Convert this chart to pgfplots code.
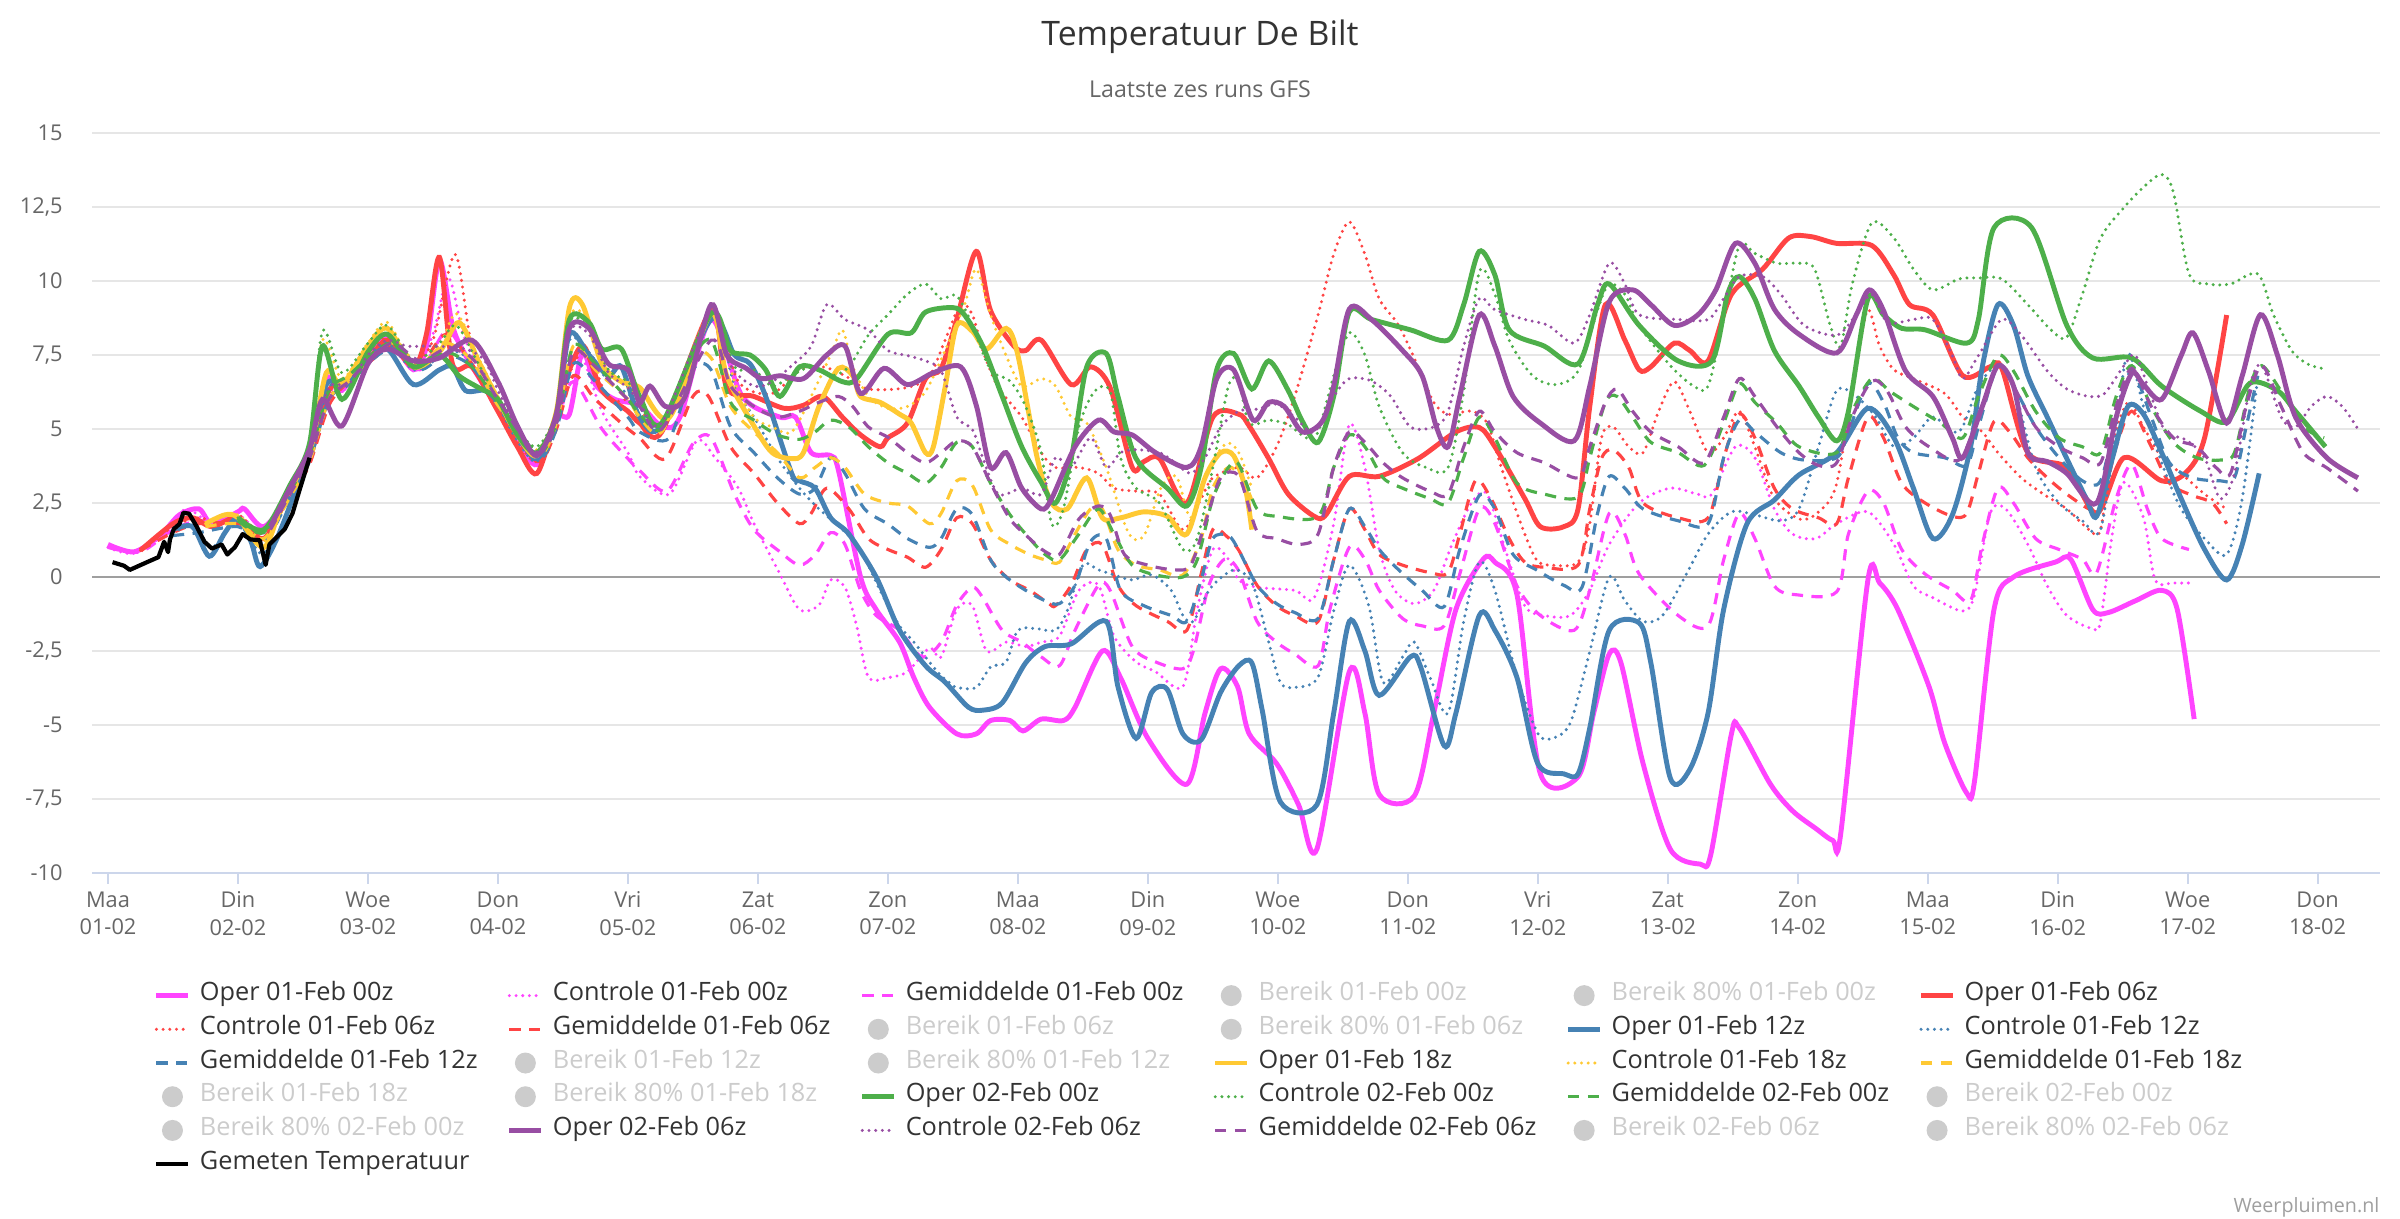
\documentclass[border=0pt]{standalone}
\usepackage{fontspec}
\setmainfont{Open Sans}
\usepackage{pgfplots}
\pgfplotsset{compat=1.18}
\definecolor{cpink}{HTML}{FF44FF}
\definecolor{cred}{HTML}{FF4444}
\definecolor{cblue}{HTML}{4682B4}
\definecolor{cyellow}{HTML}{FFC933}
\definecolor{cgreen}{HTML}{4DAF4A}
\definecolor{cpurple}{HTML}{984EA3}
\definecolor{cgrid}{HTML}{E6E6E6}
\definecolor{caxis}{HTML}{CCD6EB}
\definecolor{ctick}{HTML}{666666}
\definecolor{ctext}{HTML}{333333}
\definecolor{cbereik}{HTML}{CCCCCC}
\pgfplotsset{
  oper/.style={no markers, line width=1.4pt, smooth, tension=0.5},
  ctrl/.style={no markers, line width=0.95pt, smooth, tension=0.5, line cap=round, dash pattern=on 0pt off 1.9pt},
  gem/.style={no markers, line width=0.9pt, smooth, tension=0.5, dash pattern=on 3.2pt off 2.4pt},
  bereik/.style={legend image code/.code={\path[draw=none] (0cm,0cm) -- (0.32cm,0cm); \path[fill=cbereik, draw=none] (0.16cm,0cm) circle[radius=0.105cm];}},
}
\newcommand{\LE}[1]{\addlegendentry{\makebox[3.16cm][l]{\hspace{0.09cm}#1}}}
\newcommand{\GE}[1]{\addlegendimage{bereik}\addlegendentry{\makebox[3.16cm][l]{\hspace{0.09cm}\textcolor{cbereik}{#1}}}}
\begin{document}
\begin{tikzpicture}
\useasboundingbox (0,0) rectangle (24cm,12.19cm);
\node[font=\fontsize{9.6}{11}\selectfont, text=ctext] at (12cm,11.82cm) {Temperatuur De Bilt};
\node[font=\fontsize{6.6}{8}\selectfont, text=ctick] at (12cm,11.30cm) {Laatste zes runs GFS};
\node[anchor=base east, inner sep=0pt, font=\fontsize{5.6}{6}\selectfont, text=gray!75] at (23.80cm,0.06cm) {Weerpluimen.nl};
\begin{axis}[
  at={(0.92cm,3.46cm)}, anchor=south west,
  width=22.88cm, height=7.40cm, scale only axis,
  xmin=-0.123, xmax=17.48, ymin=-10, ymax=15,
  axis x line*=bottom, axis y line*=left,
  y axis line style={draw=none},
  x axis line style={draw=caxis, line width=0.6pt, -},
  xtick={0,1,...,17},
  xticklabels={Maa\\01-02,Din\\02-02,Woe\\03-02,Don\\04-02,Vri\\05-02,Zat\\06-02,Zon\\07-02,Maa\\08-02,Din\\09-02,Woe\\10-02,Don\\11-02,Vri\\12-02,Zat\\13-02,Zon\\14-02,Maa\\15-02,Din\\16-02,Woe\\17-02,Don\\18-02},
  xtick style={draw=caxis, line width=0.6pt},
  tick align=outside, major tick length=0.11cm,
  ytick={-10,-7.5,-5,-2.5,0,2.5,5,7.5,10,12.5,15},
  ytick style={draw=none},
  ymajorgrids, grid style={draw=cgrid, line width=0.5pt},
  extra y ticks={0}, extra y tick labels={},
  extra y tick style={grid style={draw=gray!75, line width=0.6pt}},
  yticklabel style={font=\fontsize{6.2}{7}\selectfont, text=ctick, /pgf/number format/use comma, /pgf/number format/assume math mode=true, xshift=-0.06cm},
  xticklabel style={font=\fontsize{6.2}{7.8}\selectfont, text=ctick, align=center, yshift=0.045cm},
  legend columns=6, legend cell align=left,
  legend style={at={(0.0268,-0.142)}, anchor=north west, draw=none, fill=none, font=\fontsize{7.2}{8}\selectfont, text=ctext, column sep=0pt, row sep=0pt, inner sep=0pt, nodes={inner sep=0pt, text height=0.22cm, text depth=0.117cm}},
  legend image code/.code={\draw[#1] (0cm,0cm) -- (0.32cm,0cm);},
]
% ---------- 01-Feb 00z (pink)
\addplot[oper, cpink] coordinates {(0,1.1)(0.2,0.85)(0.4,1.4)(0.55,2.1)(0.7,2.3)(0.8,1.8)(1.0,2.2)(1.05,2.3)(1.2,1.7)(1.4,2.8)(1.55,4.2)(1.68,6.7)(1.8,6.3)(2.0,7.6)(2.15,8.1)(2.35,7.0)(2.45,7.8)(2.55,10.7)(2.65,8.5)(2.75,7.5)(3.0,5.7)(3.15,4.6)(3.3,3.8)(3.45,5.4)(3.55,5.5)(3.65,7.6)(3.75,6.5)(3.9,6.0)(4.09,5.8)(4.26,5.1)(4.4,5.4)(4.64,8.7)(4.88,6.1)(5.17,5.4)(5.29,5.4)(5.41,4.2)(5.56,4.1)(5.62,3.6)(5.79,0.0)(5.91,-1.1)(6.09,-2.2)(6.2,-3.4)(6.32,-4.4)(6.53,-5.3)(6.68,-5.3)(6.79,-4.85)(6.94,-4.85)(7.04,-5.2)(7.18,-4.8)(7.35,-4.85)(7.44,-4.4)(7.65,-2.5)(7.79,-3.4)(8.0,-5.45)(8.3,-7.0)(8.44,-4.6)(8.56,-3.1)(8.69,-3.7)(8.78,-5.3)(8.99,-6.3)(9.16,-7.7)(9.3,-9.2)(9.55,-3.2)(9.67,-4.6)(9.78,-7.35)(10.05,-7.4)(10.2,-4.6)(10.37,-1.1)(10.58,0.6)(10.67,0.5)(10.84,-0.6)(11.02,-6.65)(11.31,-6.75)(11.43,-4.6)(11.55,-2.6)(11.64,-2.9)(11.81,-6.3)(12.02,-9.2)(12.25,-9.7)(12.33,-9.4)(12.49,-5.3)(12.55,-5.1)(12.79,-7.0)(12.96,-7.9)(13.14,-8.5)(13.27,-8.9)(13.33,-8.7)(13.54,-0.1)(13.63,-0.2)(13.77,-1.1)(14.01,-3.7)(14.13,-5.6)(14.3,-7.3)(14.36,-6.9)(14.51,-1.1)(14.66,0.0)(14.98,0.5)(15.1,0.6)(15.27,-1.1)(15.39,-1.2)(15.6,-0.8)(15.8,-0.45)(15.92,-1.1)(16.05,-4.8)};
\LE{Oper 01-Feb 00z}
\addplot[ctrl, cpink] coordinates {(0,1.0)(0.2,0.8)(0.45,1.5)(0.6,2.3)(0.8,1.8)(1.0,2.1)(1.2,1.5)(1.4,2.8)(1.55,4.1)(1.7,6.2)(1.85,6.5)(2.0,7.4)(2.15,8.0)(2.35,7.0)(2.5,8.2)(2.62,10.1)(2.75,8.0)(3.0,5.9)(3.15,4.8)(3.3,4.1)(3.45,5.3)(3.55,7.0)(3.65,7.4)(3.8,5.6)(4.0,4.2)(4.09,3.4)(4.32,2.8)(4.53,4.6)(4.67,4.03)(4.85,3.0)(4.97,1.8)(5.17,0.1)(5.32,-1.1)(5.47,-0.95)(5.56,-0.1)(5.67,-0.35)(5.76,-1.65)(5.85,-3.38)(6.0,-3.4)(6.15,-3.2)(6.32,-2.4)(6.41,-2.7)(6.53,-1.1)(6.65,-0.97)(6.76,-2.5)(6.91,-2.2)(7.06,-2.35)(7.18,-2.2)(7.32,-2.0)(7.47,-0.45)(7.62,-0.28)(7.74,-2.0)(7.91,-2.87)(8.06,-3.2)(8.27,-3.7)(8.38,-1.1)(8.5,0.93)(8.62,0.6)(8.7,-0.1)(8.84,-0.35)(9.13,-0.45)(9.28,-0.7)(9.43,1.8)(9.55,5.15)(9.67,3.7)(9.78,0.93)(9.9,-0.45)(10.05,-0.9)(10.2,-0.45)(10.34,1.1)(10.49,2.5)(10.61,2.8)(10.75,0.93)(10.9,-0.97)(11.05,-1.3)(11.25,-1.3)(11.4,-0.45)(11.55,1.1)(11.78,2.5)(12.02,3.0)(12.23,2.8)(12.34,2.8)(12.52,4.4)(12.67,4.03)(12.82,2.3)(12.96,1.45)(13.14,1.3)(13.3,1.8)(13.54,2.2)(13.74,1.1)(13.89,-0.3)(14.04,-0.7)(14.27,-1.15)(14.36,-0.6)(14.48,2.15)(14.6,2.3)(14.77,1.1)(14.92,-0.3)(15.07,-1.3)(15.27,-1.75)(15.33,-1.5)(15.42,1.45)(15.51,3.2)(15.66,2.0)(15.75,-0.1)(15.89,-0.2)(16.04,-0.2)};
\LE{Controle 01-Feb 00z}
\addplot[gem, cpink] coordinates {(0,1.0)(0.25,0.85)(0.5,1.6)(0.7,1.9)(1.0,1.9)(1.2,1.5)(1.4,2.8)(1.55,4.0)(1.7,6.0)(1.85,6.5)(2.05,7.5)(2.2,7.8)(2.4,7.0)(2.6,8.3)(2.75,7.5)(3.0,5.6)(3.3,4.0)(3.45,5.2)(3.58,6.6)(3.8,5.0)(4.0,4.0)(4.09,3.6)(4.3,2.9)(4.5,4.5)(4.64,4.7)(4.82,2.8)(4.97,1.6)(5.17,0.85)(5.32,0.4)(5.44,0.75)(5.56,1.5)(5.67,1.1)(5.79,-0.45)(5.91,-1.3)(6.09,-1.8)(6.26,-2.7)(6.41,-2.2)(6.53,-0.95)(6.65,-0.35)(6.73,-0.7)(6.88,-1.8)(7.03,-2.2)(7.18,-2.7)(7.32,-3.0)(7.44,-1.8)(7.62,-0.28)(7.71,-0.45)(7.88,-2.35)(8.06,-2.87)(8.27,-3.1)(8.35,-2.5)(8.47,-0.28)(8.59,0.6)(8.7,0.2)(8.84,-1.5)(8.99,-2.2)(9.13,-2.6)(9.31,-3.0)(9.4,-1.1)(9.55,1.0)(9.67,0.6)(9.78,-0.45)(9.96,-1.4)(10.11,-1.65)(10.28,-1.65)(10.4,0.1)(10.55,2.3)(10.67,1.8)(10.84,-0.3)(11.02,-1.3)(11.28,-1.8)(11.4,-0.45)(11.55,2.15)(11.67,1.45)(11.78,0.1)(12.08,-1.3)(12.31,-1.65)(12.43,0.58)(12.55,2.15)(12.67,1.3)(12.82,-0.3)(12.99,-0.6)(13.3,-0.5)(13.39,1.45)(13.54,2.9)(13.66,2.5)(13.8,0.93)(13.98,0.1)(14.19,-0.45)(14.33,-0.8)(14.42,1.1)(14.54,3.0)(14.66,2.5)(14.83,1.3)(15.01,0.93)(15.19,0.6)(15.3,0.15)(15.45,2.65)(15.57,3.8)(15.69,2.3)(15.8,1.3)(16.01,0.93)};
\LE{Gemiddelde 01-Feb 00z}
\GE{Bereik 01-Feb 00z}
\GE{Bereik 80\% 01-Feb 00z}
% ---------- 01-Feb 06z (red)
\addplot[oper, cred] coordinates {(0.25,0.9)(0.5,1.8)(0.65,2.0)(0.8,1.7)(1.0,2.0)(1.2,1.3)(1.4,2.9)(1.55,4.0)(1.7,6.3)(1.85,6.6)(2.0,7.3)(2.15,8.0)(2.35,7.1)(2.45,8.2)(2.55,10.8)(2.65,7.2)(2.8,7.1)(3.0,5.6)(3.15,4.4)(3.3,3.5)(3.45,5.5)(3.55,7.0)(3.66,7.8)(3.8,6.3)(4.0,5.6)(4.09,5.2)(4.26,4.9)(4.64,9.0)(4.76,6.4)(4.97,6.1)(5.2,5.7)(5.35,5.8)(5.5,6.1)(5.65,5.4)(5.79,4.8)(5.94,4.4)(6.0,4.7)(6.15,5.2)(6.29,6.7)(6.41,7.05)(6.53,8.7)(6.68,11.0)(6.79,9.0)(6.97,7.8)(7.06,7.65)(7.18,8.0)(7.41,6.5)(7.56,7.1)(7.71,6.4)(7.88,3.7)(7.97,3.9)(8.09,4.0)(8.3,2.5)(8.5,5.4)(8.7,5.5)(8.78,5.1)(8.93,4.0)(9.08,2.8)(9.28,2.05)(9.37,2.1)(9.55,3.4)(9.78,3.4)(10.08,4.0)(10.37,4.9)(10.55,5.05)(10.67,4.4)(10.9,2.65)(11.02,1.7)(11.2,1.7)(11.31,2.3)(11.4,5.76)(11.52,9.2)(11.67,8.0)(11.78,7.0)(11.87,7.1)(12.05,7.9)(12.17,7.65)(12.31,7.3)(12.49,9.55)(12.73,10.4)(12.93,11.45)(13.1,11.5)(13.3,11.27)(13.57,11.2)(13.74,10.2)(13.86,9.2)(14.04,8.85)(14.27,6.8)(14.48,7.1)(14.57,7.05)(14.77,4.2)(15.07,3.7)(15.3,2.15)(15.51,4.03)(15.8,3.25)(15.98,3.5)(16.13,4.7)(16.3,8.85)};
\LE{Oper 01-Feb 06z}
\addplot[ctrl, cred] coordinates {(0.25,0.9)(0.5,1.7)(0.7,2.0)(0.85,1.8)(1.0,2.1)(1.2,1.5)(1.4,2.8)(1.55,3.9)(1.7,6.0)(1.85,6.8)(2.0,7.5)(2.15,8.1)(2.35,7.3)(2.5,8.0)(2.67,10.9)(2.8,7.8)(3.0,5.8)(3.15,4.6)(3.3,3.9)(3.45,5.2)(3.58,7.2)(3.7,7.5)(3.85,6.0)(4.0,6.0)(4.09,5.76)(4.26,5.0)(4.64,9.0)(4.85,6.6)(5.11,6.2)(5.32,7.0)(5.5,7.1)(5.67,6.8)(5.85,6.35)(6.15,6.4)(6.32,6.8)(6.44,8.0)(6.56,9.2)(6.65,8.86)(6.73,7.65)(6.85,6.4)(7.03,5.4)(7.18,4.2)(7.29,3.7)(7.47,3.7)(7.62,3.5)(7.74,3.0)(7.91,2.9)(8.09,2.8)(8.27,1.6)(8.41,2.65)(8.5,3.35)(8.7,3.7)(8.84,3.35)(8.99,4.4)(9.13,6.1)(9.31,8.86)(9.43,10.9)(9.55,12.0)(9.67,10.9)(9.78,9.4)(9.93,8.5)(10.08,7.1)(10.2,5.9)(10.31,5.5)(10.49,5.6)(10.61,5.2)(10.72,3.7)(10.87,1.8)(10.99,0.58)(11.11,0.4)(11.31,0.5)(11.4,1.8)(11.49,4.7)(11.58,5.07)(11.7,4.4)(11.81,4.2)(11.93,5.6)(12.05,6.6)(12.17,5.6)(12.31,4.2)(12.43,4.7)(12.55,5.6)(12.67,4.4)(12.82,2.65)(13.02,1.95)(13.16,2.2)(13.3,3.17)(13.45,7.14)(13.54,9.03)(13.63,7.8)(13.74,7.0)(13.89,6.7)(14.13,6.2)(14.27,5.4)(14.42,4.9)(14.54,4.2)(14.72,3.35)(14.89,2.8)(15.07,2.3)(15.24,1.6)(15.33,1.6)(15.42,4.4)(15.54,5.9)(15.66,5.07)(15.8,4.03)(15.95,3.5)(16.13,2.8)(16.3,2.3)};
\LE{Controle 01-Feb 06z}
\addplot[gem, cred] coordinates {(0.25,0.9)(0.5,1.5)(0.7,1.8)(1.0,1.8)(1.2,1.5)(1.4,2.7)(1.55,3.8)(1.7,5.8)(1.85,6.6)(2.05,7.4)(2.2,7.8)(2.4,7.2)(2.6,8.2)(2.8,7.2)(3.0,5.7)(3.3,3.9)(3.45,5.0)(3.58,6.8)(3.75,6.0)(4.0,5.0)(4.09,4.7)(4.29,4.0)(4.5,6.1)(4.62,6.1)(4.79,4.4)(4.97,3.5)(5.15,2.5)(5.32,1.8)(5.41,2.15)(5.53,3.0)(5.7,2.3)(5.85,1.3)(6.0,0.93)(6.15,0.67)(6.29,0.33)(6.41,0.93)(6.53,2.0)(6.65,1.8)(6.79,0.58)(6.94,-0.1)(7.09,-0.45)(7.24,-0.9)(7.29,-0.97)(7.41,-0.28)(7.53,0.93)(7.65,1.1)(7.77,-0.28)(7.91,-0.97)(8.15,-1.5)(8.3,-1.8)(8.41,0.1)(8.5,1.6)(8.6,1.4)(8.7,0.9)(8.84,-0.28)(8.99,-0.97)(9.13,-1.3)(9.31,-1.5)(9.43,0.58)(9.55,2.3)(9.67,1.6)(9.78,0.76)(9.96,0.4)(10.17,0.15)(10.31,0.15)(10.4,1.45)(10.52,3.25)(10.64,2.65)(10.78,1.3)(10.9,0.5)(11.05,0.33)(11.31,0.4)(11.4,2.3)(11.49,4.0)(11.58,4.3)(11.7,3.7)(11.81,2.5)(12.08,2.0)(12.31,2.0)(12.43,4.0)(12.55,5.5)(12.67,4.7)(12.82,3.0)(12.96,2.3)(13.16,2.0)(13.3,1.8)(13.39,3.35)(13.54,5.4)(13.66,4.7)(13.8,3.17)(13.98,2.5)(14.19,2.05)(14.3,2.15)(14.39,3.5)(14.51,5.25)(14.63,4.9)(14.77,4.03)(14.92,3.35)(15.07,2.8)(15.24,2.3)(15.33,2.3)(15.45,4.4)(15.57,5.6)(15.72,4.4)(15.86,3.17)(16.04,2.75)(16.19,2.5)(16.3,1.8)};
\LE{Gemiddelde 01-Feb 06z}
\GE{Bereik 01-Feb 06z}
\GE{Bereik 80\% 01-Feb 06z}
% ---------- 01-Feb 12z (blue)
\addplot[oper, cblue] coordinates {(0.5,1.6)(0.65,1.7)(0.78,0.7)(0.9,1.5)(1.0,2.0)(1.1,1.2)(1.17,0.35)(1.3,1.3)(1.45,3.0)(1.55,4.2)(1.68,6.5)(1.8,6.5)(2.0,7.3)(2.15,7.7)(2.35,6.5)(2.55,7.0)(2.65,7.1)(2.75,6.3)(2.9,6.3)(3.0,5.9)(3.15,4.8)(3.3,4.0)(3.45,5.3)(3.55,8.2)(3.7,7.5)(3.85,6.8)(3.95,7.1)(4.09,5.4)(4.26,5.1)(4.64,8.7)(4.82,7.5)(4.94,7.2)(5.06,6.1)(5.26,3.5)(5.32,3.25)(5.44,3.0)(5.56,2.0)(5.7,1.45)(5.91,0.0)(6.09,-1.8)(6.29,-3.0)(6.44,-3.55)(6.62,-4.4)(6.73,-4.5)(6.88,-4.25)(7.06,-2.9)(7.21,-2.35)(7.41,-2.26)(7.68,-1.5)(7.77,-3.7)(7.91,-5.45)(8.03,-3.9)(8.15,-3.8)(8.27,-5.3)(8.41,-5.5)(8.56,-3.9)(8.7,-3.0)(8.8,-2.9)(8.88,-4.5)(9.02,-7.6)(9.3,-7.7)(9.43,-4.6)(9.55,-1.5)(9.67,-2.5)(9.78,-4.0)(10.02,-2.7)(10.1,-3.05)(10.28,-5.7)(10.37,-4.6)(10.55,-1.3)(10.67,-1.8)(10.84,-3.4)(11.0,-6.3)(11.2,-6.65)(11.31,-6.65)(11.4,-5.1)(11.55,-1.8)(11.78,-1.55)(11.87,-2.9)(12.02,-6.8)(12.17,-6.5)(12.31,-4.6)(12.43,-1.1)(12.61,1.8)(12.82,2.6)(13.01,3.45)(13.3,4.2)(13.54,5.7)(13.74,4.7)(13.89,3.0)(14.04,1.3)(14.19,2.1)(14.33,4.4)(14.42,7.1)(14.54,9.2)(14.66,8.5)(14.77,6.8)(14.92,5.4)(15.07,4.0)(15.22,2.65)(15.3,2.05)(15.42,4.0)(15.54,5.76)(15.66,5.5)(15.8,4.2)(15.95,2.65)(16.13,0.93)(16.3,-0.1)(16.42,1.1)(16.55,3.5)};
\LE{Oper 01-Feb 12z}
\addplot[ctrl, cblue] coordinates {(0.5,1.5)(0.65,1.7)(0.8,1.0)(1.0,1.9)(1.17,0.8)(1.3,1.4)(1.45,3.0)(1.55,4.1)(1.7,6.4)(1.85,6.6)(2.0,7.4)(2.15,7.9)(2.35,7.0)(2.55,7.4)(2.7,7.6)(2.85,6.9)(3.0,5.8)(3.15,4.6)(3.3,3.9)(3.45,5.3)(3.55,8.0)(3.7,7.6)(3.85,6.6)(4.0,6.2)(4.09,5.76)(4.26,5.07)(4.64,8.86)(4.82,6.45)(4.97,5.4)(5.15,4.03)(5.32,3.0)(5.47,2.3)(5.65,1.6)(5.79,0.93)(5.94,-0.45)(6.09,-1.65)(6.2,-2.2)(6.38,-3.2)(6.47,-3.56)(6.53,-3.73)(6.68,-3.73)(6.79,-3.04)(6.91,-2.87)(7.0,-1.8)(7.15,-1.75)(7.29,-1.8)(7.38,-1.14)(7.5,0.4)(7.62,0.24)(7.74,0.07)(7.88,-0.1)(8.03,0.07)(8.18,-0.45)(8.27,-1.3)(8.35,-1.5)(8.47,-0.45)(8.59,0.07)(8.69,0.24)(8.81,-0.28)(8.93,-2.2)(9.02,-3.56)(9.13,-3.73)(9.31,-3.38)(9.43,-1.14)(9.55,0.4)(9.7,-0.97)(9.81,-3.56)(9.96,-2.7)(10.05,-2.2)(10.17,-3.38)(10.31,-4.6)(10.43,-1.5)(10.55,0.5)(10.67,-0.45)(10.84,-3.38)(11.0,-5.28)(11.11,-5.45)(11.25,-4.93)(11.4,-2.52)(11.55,0)(11.67,-0.8)(11.81,-1.5)(11.96,-1.3)(12.14,0.07)(12.31,1.45)(12.49,2.2)(12.67,2.1)(12.87,1.9)(13.01,2.3)(13.16,4.4)(13.3,6.3)(13.45,6.1)(13.6,5.4)(13.74,4.4)(13.89,4.7)(14.04,5.4)(14.24,4.9)(14.39,6.45)(14.54,7.14)(14.66,6.45)(14.83,3.7)(15.01,2.5)(15.19,1.9)(15.33,1.6)(15.45,5.07)(15.54,7.57)(15.66,5.76)(15.8,3.86)(15.95,2.3)(16.13,1.3)(16.3,0.76)(16.42,2.65)(16.54,6.79)};
\LE{Controle 01-Feb 12z}
\addplot[gem, cblue] coordinates {(0.5,1.4)(0.7,1.5)(1.0,1.7)(1.2,1.2)(1.4,2.7)(1.55,3.9)(1.7,6.0)(1.85,6.5)(2.05,7.4)(2.2,7.7)(2.4,7.0)(2.6,7.5)(2.8,7.1)(3.0,5.8)(3.3,4.0)(3.45,5.0)(3.58,7.2)(3.75,6.6)(4.0,5.4)(4.09,4.9)(4.32,4.7)(4.5,7.0)(4.64,7.0)(4.79,5.07)(4.97,4.2)(5.15,3.35)(5.32,2.8)(5.44,3.0)(5.56,4.03)(5.67,3.5)(5.82,2.3)(6.0,1.79)(6.15,1.3)(6.32,1.0)(6.41,1.3)(6.53,2.3)(6.65,2.1)(6.79,0.58)(6.91,0)(7.06,-0.45)(7.21,-0.8)(7.32,-0.9)(7.44,-0.28)(7.56,1.2)(7.68,1.3)(7.79,-0.45)(7.97,-0.97)(8.18,-1.3)(8.3,-1.5)(8.41,-0.1)(8.5,1.3)(8.62,1.4)(8.7,0.9)(8.84,-0.28)(8.99,-0.9)(9.13,-1.2)(9.31,-1.4)(9.43,0.58)(9.55,2.3)(9.67,1.7)(9.78,0.93)(9.93,0.24)(10.11,-0.45)(10.28,-1.0)(10.4,0.93)(10.55,2.75)(10.67,2.3)(10.81,0.76)(10.99,0.24)(11.2,-0.28)(11.34,-0.35)(11.46,2.15)(11.55,3.4)(11.67,3.0)(11.81,2.3)(12.08,1.9)(12.31,1.8)(12.43,4.03)(12.55,5.3)(12.67,4.9)(12.87,4.2)(13.05,3.95)(13.3,4.03)(13.39,4.9)(13.54,6.53)(13.66,5.9)(13.77,4.7)(13.89,4.2)(14.13,4.03)(14.3,3.77)(14.39,5.07)(14.54,7.14)(14.66,6.45)(14.83,5.07)(15.01,4.03)(15.19,3.25)(15.33,3.25)(15.45,5.4)(15.57,6.96)(15.72,5.4)(15.86,3.86)(16.04,3.35)(16.25,3.25)(16.36,3.35)(16.45,5.07)(16.54,6.8)};
\LE{Gemiddelde 01-Feb 12z}
\GE{Bereik 01-Feb 12z}
\GE{Bereik 80\% 01-Feb 12z}
% ---------- 01-Feb 18z (yellow)
\addplot[oper, cyellow] coordinates {(0.75,1.8)(0.9,2.1)(1.0,2.0)(1.2,1.0)(1.35,2.6)(1.55,4.2)(1.68,6.9)(1.8,6.5)(2.0,7.8)(2.15,8.4)(2.35,7.1)(2.55,7.6)(2.7,8.6)(2.85,7.3)(3.0,6.0)(3.15,4.8)(3.3,4.1)(3.45,5.6)(3.55,9.1)(3.65,9.2)(3.8,7.2)(3.95,6.6)(4.09,6.4)(4.32,5.4)(4.64,8.9)(4.76,6.8)(4.97,5.1)(5.11,4.2)(5.26,4.0)(5.35,4.2)(5.47,5.76)(5.62,7.05)(5.73,6.8)(5.79,6.1)(5.94,5.9)(6.09,5.5)(6.18,5.2)(6.29,4.2)(6.35,4.4)(6.44,6.4)(6.53,8.5)(6.65,8.3)(6.76,7.7)(6.91,8.4)(7.0,7.5)(7.15,4.0)(7.26,2.5)(7.38,2.3)(7.53,3.35)(7.65,2.0)(7.79,2.0)(7.97,2.2)(8.15,2.05)(8.3,1.45)(8.44,3.35)(8.56,4.2)(8.66,4.1)(8.75,3.0)(8.8,1.6)};
\LE{Oper 01-Feb 18z}
\addplot[ctrl, cyellow] coordinates {(0.75,1.8)(1.0,2.1)(1.2,1.2)(1.4,2.8)(1.55,4.2)(1.65,8.0)(1.8,6.7)(2.0,7.9)(2.15,8.6)(2.35,7.2)(2.55,7.8)(2.68,8.9)(2.85,7.4)(3.0,6.1)(3.15,4.9)(3.3,4.3)(3.45,5.6)(3.55,8.8)(3.7,8.7)(3.85,7.0)(4.0,6.4)(4.09,6.1)(4.26,5.2)(4.64,9.0)(4.82,6.6)(4.97,5.4)(5.11,5.07)(5.26,4.9)(5.41,6.1)(5.56,7.5)(5.65,8.34)(5.73,7.1)(5.85,6.1)(6.0,5.7)(6.15,5.76)(6.29,6.27)(6.44,7.65)(6.59,9.2)(6.68,10.4)(6.79,8.86)(6.91,7.48)(7.03,6.45)(7.18,6.7)(7.29,6.45)(7.41,5.41)(7.53,5.2)(7.68,3.7)(7.85,1.5)(7.97,1.4)(8.1,3.0)(8.22,3.4)(8.33,2.0)(8.45,3.5)(8.6,4.5)(8.7,4.2)(8.8,3.0)};
\LE{Controle 01-Feb 18z}
\addplot[gem, cyellow] coordinates {(0.75,1.7)(1.0,1.8)(1.2,1.3)(1.4,2.7)(1.55,3.9)(1.7,6.0)(1.85,6.6)(2.05,7.5)(2.2,7.9)(2.4,7.2)(2.6,7.9)(2.8,7.3)(3.0,5.8)(3.3,4.1)(3.45,5.2)(3.58,7.8)(3.75,7.0)(4.0,6.0)(4.09,5.4)(4.26,4.9)(4.5,7.4)(4.64,7.4)(4.79,5.76)(4.97,4.9)(5.15,4.2)(5.32,3.35)(5.44,3.7)(5.56,4.03)(5.67,3.7)(5.82,2.8)(6.0,2.5)(6.15,2.4)(6.32,1.8)(6.41,2.15)(6.53,3.25)(6.65,3.1)(6.79,1.6)(6.94,1.1)(7.09,0.76)(7.21,0.58)(7.32,0.5)(7.44,1.45)(7.56,2.3)(7.65,2.3)(7.77,0.93)(7.91,0.4)(8.09,0.24)(8.27,0.07)(8.41,1.3)(8.5,3.0)(8.62,3.7)(8.72,3.4)(8.8,2.6)};
\LE{Gemiddelde 01-Feb 18z}
\GE{Bereik 01-Feb 18z}
\GE{Bereik 80\% 01-Feb 18z}
% ---------- 02-Feb 00z (green)
\addplot[oper, cgreen] coordinates {(1.0,2.0)(1.2,1.6)(1.4,3.1)(1.55,4.5)(1.65,7.8)(1.8,6.0)(2.0,7.6)(2.15,8.2)(2.35,7.1)(2.55,7.5)(2.7,6.8)(2.85,6.4)(3.0,6.0)(3.15,4.8)(3.3,4.2)(3.45,5.5)(3.55,8.7)(3.7,8.6)(3.8,7.7)(3.95,7.7)(4.09,6.1)(4.26,5.2)(4.64,8.9)(4.79,7.65)(4.94,7.5)(5.06,7.0)(5.17,6.1)(5.32,7.1)(5.47,7.0)(5.65,6.6)(5.76,6.7)(6.0,8.2)(6.18,8.25)(6.29,8.95)(6.5,9.1)(6.59,8.85)(6.73,7.8)(6.88,6.1)(7.03,4.4)(7.18,3.2)(7.29,2.5)(7.41,4.0)(7.53,7.1)(7.68,7.55)(7.77,6.1)(7.91,4.0)(8.15,3.0)(8.3,2.4)(8.41,3.7)(8.53,7.0)(8.66,7.55)(8.8,6.35)(8.93,7.3)(9.08,6.3)(9.19,5.25)(9.31,4.55)(9.43,6.1)(9.55,8.95)(9.72,8.7)(10.02,8.35)(10.31,8.0)(10.43,9.2)(10.55,11.0)(10.67,10.2)(10.78,8.35)(11.05,7.8)(11.31,7.2)(11.46,9.2)(11.55,9.9)(11.78,8.5)(12.08,7.3)(12.34,7.3)(12.46,9.55)(12.55,10.15)(12.67,9.4)(12.82,7.65)(13.01,6.45)(13.16,5.4)(13.3,4.6)(13.39,5.6)(13.54,9.4)(13.66,8.85)(13.8,8.4)(13.98,8.35)(14.3,7.9)(14.39,8.7)(14.51,11.8)(14.8,11.8)(15.07,8.5)(15.27,7.4)(15.57,7.4)(15.8,6.45)(16.1,5.6)(16.3,5.25)(16.48,6.55)(16.69,6.3)(16.83,5.6)(17.06,4.4)};
\LE{Oper 02-Feb 00z}
\addplot[ctrl, cgreen] coordinates {(1.0,2.0)(1.2,1.5)(1.4,3.0)(1.55,4.4)(1.65,8.3)(1.8,6.9)(2.0,7.9)(2.15,8.5)(2.35,7.3)(2.55,7.9)(2.68,8.5)(2.85,7.2)(3.0,6.0)(3.15,5.0)(3.3,4.4)(3.45,5.6)(3.55,8.6)(3.7,8.4)(3.85,7.0)(4.0,6.6)(4.09,5.9)(4.26,5.2)(4.64,8.9)(4.82,7.1)(4.97,7.0)(5.11,6.45)(5.26,6.8)(5.41,7.1)(5.56,6.8)(5.7,7.1)(5.85,8.17)(6.0,8.86)(6.15,9.55)(6.29,9.9)(6.41,9.4)(6.53,9.5)(6.65,8.5)(6.79,7.0)(6.94,6.62)(7.06,5.76)(7.18,4.2)(7.26,1.8)(7.35,2.3)(7.47,5.07)(7.59,6.27)(7.71,6.27)(7.79,4.03)(7.91,3.0)(8.09,2.5)(8.27,0.93)(8.38,1.3)(8.5,3.7)(8.62,6.45)(8.7,6.6)(8.78,5.2)(8.93,5.3)(9.08,5.15)(9.22,4.7)(9.31,4.9)(9.43,6.8)(9.55,8.25)(9.67,7.5)(9.78,5.76)(9.96,4.2)(10.14,3.7)(10.31,3.7)(10.43,6.27)(10.55,10.3)(10.67,9.55)(10.78,8.0)(10.96,6.8)(11.14,6.5)(11.31,6.96)(11.46,9.03)(11.55,9.9)(11.67,9.55)(11.78,8.5)(12.02,7.14)(12.2,6.45)(12.31,6.45)(12.43,8.7)(12.55,11.2)(12.67,10.93)(12.84,10.6)(13.01,10.6)(13.13,10.4)(13.25,8.5)(13.33,7.8)(13.42,9.9)(13.57,11.96)(13.74,11.45)(13.89,10.4)(14.04,9.7)(14.24,10.07)(14.39,10.1)(14.57,10.07)(14.77,9.2)(14.95,8.34)(15.07,8.1)(15.19,9.55)(15.33,11.45)(15.51,12.48)(15.66,13.17)(15.8,13.6)(15.89,13.0)(16.01,10.24)(16.16,9.9)(16.33,9.9)(16.54,10.24)(16.66,8.86)(16.8,7.65)(16.92,7.2)(17.03,7.05)};
\LE{Controle 02-Feb 00z}
\addplot[gem, cgreen] coordinates {(1.0,1.9)(1.2,1.5)(1.4,2.9)(1.55,4.1)(1.7,6.3)(1.85,6.8)(2.05,7.6)(2.2,7.9)(2.4,7.2)(2.6,7.6)(2.8,7.1)(3.0,5.9)(3.3,4.2)(3.45,5.2)(3.58,7.8)(3.75,7.2)(4.0,6.0)(4.09,5.5)(4.26,5.0)(4.46,7.14)(4.64,8.0)(4.79,5.9)(4.97,5.3)(5.15,4.8)(5.32,4.65)(5.44,4.9)(5.56,5.3)(5.7,5.07)(5.85,4.4)(6.0,3.86)(6.15,3.5)(6.29,3.17)(6.41,3.7)(6.53,4.55)(6.65,4.4)(6.79,3.17)(6.94,2.1)(7.09,1.3)(7.21,0.76)(7.32,0.58)(7.47,1.45)(7.62,2.3)(7.74,1.45)(7.88,0.4)(8.06,0.07)(8.27,0.0)(8.38,0.58)(8.5,2.65)(8.62,3.7)(8.7,3.8)(8.84,2.3)(8.99,2.05)(9.31,2.05)(9.43,3.7)(9.55,4.8)(9.67,4.4)(9.81,3.35)(9.96,3.0)(10.17,2.65)(10.31,2.5)(10.43,4.03)(10.55,5.4)(10.67,4.7)(10.84,3.17)(11.05,2.8)(11.31,2.7)(11.4,4.03)(11.52,5.9)(11.61,6.1)(11.73,5.4)(11.87,4.55)(12.08,4.2)(12.28,3.77)(12.43,5.2)(12.55,6.53)(12.67,5.9)(12.84,5.2)(13.01,4.4)(13.3,4.2)(13.42,5.6)(13.57,6.7)(13.71,6.27)(13.89,5.76)(14.1,5.2)(14.27,4.7)(14.39,6.1)(14.54,7.48)(14.66,6.96)(14.83,5.6)(15.01,4.7)(15.19,4.4)(15.33,4.2)(15.45,6.1)(15.57,7.14)(15.72,5.76)(15.89,4.55)(16.07,4.03)(16.25,3.95)(16.36,4.2)(16.48,6.45)(16.57,7.14)(16.72,6.27)(16.89,5.07)(17.05,4.7)};
\LE{Gemiddelde 02-Feb 00z}
\GE{Bereik 02-Feb 00z}
\GE{Bereik 80\% 02-Feb 00z}
% ---------- 02-Feb 06z (purple)
\addplot[oper, cpurple] coordinates {(1.25,1.7)(1.4,3.0)(1.55,4.3)(1.65,6.0)(1.8,5.1)(2.0,7.2)(2.15,7.7)(2.35,7.3)(2.55,7.4)(2.8,8.0)(3.0,6.6)(3.15,5.1)(3.3,4.1)(3.45,5.5)(3.55,8.4)(3.7,8.4)(3.85,7.2)(4.0,7.0)(4.09,5.9)(4.17,6.45)(4.29,5.76)(4.44,6.1)(4.64,9.2)(4.76,7.5)(4.91,7.05)(5.03,6.7)(5.17,6.8)(5.35,6.7)(5.53,7.5)(5.67,7.8)(5.79,6.2)(5.97,7.05)(6.15,6.5)(6.35,6.9)(6.56,7.1)(6.68,5.8)(6.79,3.7)(6.91,4.2)(7.03,3.0)(7.18,2.3)(7.26,2.65)(7.44,4.4)(7.62,5.3)(7.74,4.9)(7.88,4.8)(8.06,4.2)(8.3,3.7)(8.41,4.4)(8.53,6.7)(8.66,7.0)(8.81,5.3)(8.93,5.9)(9.05,5.76)(9.19,4.9)(9.34,5.25)(9.43,6.45)(9.55,9.05)(9.72,8.7)(9.96,7.65)(10.11,6.8)(10.22,5.07)(10.31,4.4)(10.4,6.1)(10.55,8.85)(10.67,7.8)(10.81,6.1)(11.02,5.2)(11.28,4.6)(11.4,6.45)(11.55,9.3)(11.73,9.7)(11.87,9.2)(12.05,8.5)(12.23,8.85)(12.37,9.7)(12.52,11.27)(12.67,10.6)(12.82,9.05)(13.01,8.2)(13.3,7.57)(13.45,8.85)(13.55,9.7)(13.66,9.0)(13.83,6.96)(14.04,6.1)(14.19,4.7)(14.27,4.03)(14.42,5.76)(14.54,7.14)(14.66,6.45)(14.77,4.2)(14.92,3.9)(15.07,3.5)(15.3,2.5)(15.45,5.4)(15.57,6.88)(15.66,6.5)(15.8,6.0)(15.95,7.48)(16.04,8.25)(16.16,6.96)(16.3,5.2)(16.42,6.8)(16.56,8.86)(16.69,7.5)(16.83,5.4)(17.07,4.03)(17.31,3.35)};
\LE{Oper 02-Feb 06z}
\addplot[ctrl, cpurple] coordinates {(1.25,1.8)(1.4,3.1)(1.55,4.4)(1.7,6.4)(1.85,6.5)(2.0,7.5)(2.15,8.0)(2.3,7.8)(2.5,7.8)(2.75,7.7)(2.9,7.3)(3.0,6.3)(3.15,5.0)(3.3,4.2)(3.45,5.5)(3.55,8.3)(3.7,8.2)(3.85,6.9)(4.0,6.4)(4.09,5.9)(4.26,5.2)(4.64,9.0)(4.79,7.14)(4.97,6.45)(5.11,6.6)(5.26,7.14)(5.41,7.8)(5.53,9.2)(5.67,8.7)(5.85,8.34)(6.0,7.65)(6.15,7.48)(6.29,7.3)(6.41,6.96)(6.53,5.41)(6.65,4.98)(6.73,4.03)(6.85,2.8)(7.03,3.0)(7.18,2.8)(7.29,4.03)(7.41,3.7)(7.56,4.7)(7.68,3.7)(7.79,4.2)(7.91,4.3)(8.09,4.2)(8.21,3.86)(8.33,3.5)(8.44,4.03)(8.56,5.07)(8.7,5.6)(8.84,5.67)(8.99,5.84)(9.13,5.4)(9.28,4.9)(9.43,6.1)(9.55,6.7)(9.72,6.62)(9.87,6.1)(10.02,5.07)(10.2,5.07)(10.31,5.6)(10.43,7.8)(10.55,9.4)(10.67,9.03)(10.9,8.7)(11.08,8.5)(11.28,7.9)(11.4,8.86)(11.55,10.6)(11.67,9.9)(11.78,8.86)(12.08,8.7)(12.31,8.7)(12.43,9.4)(12.55,10.15)(12.73,10.15)(12.87,9.55)(13.05,8.5)(13.3,8.17)(13.45,8.86)(13.57,9.55)(13.69,8.6)(13.89,8.7)(14.04,8.7)(14.19,7.48)(14.27,6.7)(14.39,7.48)(14.57,8.7)(14.72,8.17)(14.92,6.96)(15.07,6.35)(15.24,6.1)(15.36,6.2)(15.51,7.14)(15.6,7.48)(15.72,6.1)(15.83,4.9)(15.98,4.65)(16.13,4.03)(16.25,2.65)(16.36,3.5)(16.48,6.45)(16.57,7.14)(16.72,5.4)(16.83,5.07)(16.95,5.76)(17.07,6.1)(17.19,5.76)(17.31,5.0)};
\LE{Controle 02-Feb 06z}
\addplot[gem, cpurple] coordinates {(1.25,1.6)(1.4,2.8)(1.55,4.0)(1.7,6.0)(1.85,6.6)(2.05,7.5)(2.2,7.9)(2.4,7.3)(2.6,7.7)(2.8,7.4)(3.0,6.0)(3.3,4.2)(3.45,5.2)(3.58,7.6)(3.75,7.1)(4.0,6.0)(4.09,5.76)(4.26,5.0)(4.64,8.0)(4.79,6.45)(4.97,5.76)(5.15,5.4)(5.32,5.6)(5.47,5.9)(5.62,6.1)(5.73,5.76)(5.85,5.07)(6.0,4.72)(6.15,4.2)(6.29,3.86)(6.41,4.2)(6.53,4.6)(6.65,4.4)(6.79,3.17)(6.94,1.96)(7.09,1.3)(7.21,0.86)(7.32,0.76)(7.47,1.96)(7.62,2.4)(7.71,2.1)(7.82,0.76)(8.0,0.4)(8.21,0.24)(8.33,0.4)(8.44,1.8)(8.56,3.35)(8.7,3.4)(8.84,1.55)(8.99,1.3)(9.16,1.1)(9.31,1.45)(9.43,3.7)(9.55,4.9)(9.67,4.55)(9.81,3.86)(9.96,3.35)(10.17,2.9)(10.31,2.8)(10.43,4.4)(10.55,5.6)(10.67,4.9)(10.84,4.2)(11.05,3.86)(11.31,3.35)(11.4,4.4)(11.52,5.9)(11.61,6.35)(11.73,5.6)(11.87,4.9)(12.08,4.4)(12.28,3.86)(12.43,5.4)(12.55,6.7)(12.67,6.1)(12.84,5.07)(13.01,4.2)(13.16,3.77)(13.3,3.86)(13.42,5.41)(13.57,6.62)(13.69,6.27)(13.83,5.07)(14.01,4.4)(14.24,3.95)(14.39,5.41)(14.54,7.14)(14.66,6.45)(14.83,5.07)(15.01,4.4)(15.19,4.03)(15.33,3.86)(15.45,5.76)(15.57,7.05)(15.72,5.76)(15.89,4.7)(16.07,4.4)(16.22,3.69)(16.33,3.5)(16.45,5.76)(16.57,7.14)(16.72,5.76)(16.89,4.2)(17.07,3.69)(17.31,2.9)};
\LE{Gemiddelde 02-Feb 06z}
\GE{Bereik 02-Feb 06z}
\GE{Bereik 80\% 02-Feb 06z}
% ---------- measured
\addplot[no markers, black, line width=1.2pt, line join=round] coordinates {(0.035,0.5)(0.123,0.38)(0.168,0.24)(0.3,0.5)(0.388,0.67)(0.432,1.19)(0.462,0.84)(0.477,1.27)(0.506,1.62)(0.55,1.79)(0.58,2.17)(0.624,2.14)(0.683,1.7)(0.742,1.19)(0.8,0.96)(0.874,1.1)(0.918,0.76)(0.977,1.01)(1.036,1.45)(1.095,1.27)(1.168,1.24)(1.213,0.41)(1.242,1.1)(1.36,1.62)(1.419,2.14)(1.478,3.0)(1.551,4.03)};
\LE{Gemeten Temperatuur}
\end{axis}
\end{tikzpicture}
\end{document}
